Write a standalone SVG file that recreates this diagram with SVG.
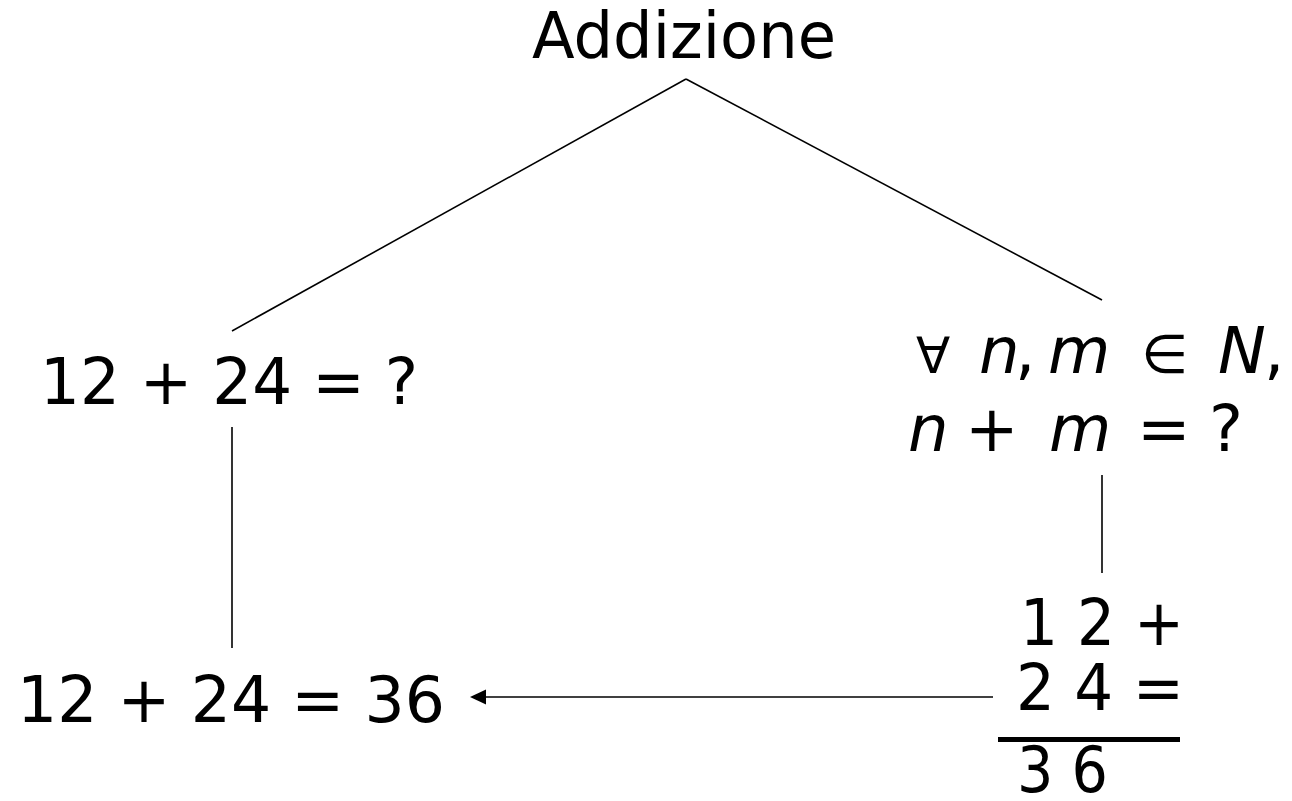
<svg xmlns="http://www.w3.org/2000/svg" width="1292" height="801" viewBox="0 0 1292 801">
<style>
text{font-family:"DejaVu Sans","Liberation Sans",sans-serif;font-size:64px;fill:#000}
.it{font-style:italic}
.ln{stroke:#000;stroke-width:1.6;fill:none}
</style>
<rect width="1292" height="801" fill="#fff"/>
<g id="connectors">
<line class="ln" x1="686" y1="79" x2="232" y2="331"/>
<line class="ln" x1="686" y1="79" x2="1102" y2="300"/>
<line class="ln" x1="232" y1="427" x2="232" y2="648"/>
<line class="ln" x1="1102" y1="475" x2="1102" y2="573"/>
<line class="ln" x1="993" y1="697" x2="484" y2="697"/>
<path d="M486,689.5 L470,697 L486,704.5 Z" fill="#000"/>
</g>
<g id="n-addizione"><text x="532" y="58" textLength="304" lengthAdjust="spacingAndGlyphs">Addizione</text></g>
<g id="n-concrete"><text x="40" y="404" textLength="378" lengthAdjust="spacingAndGlyphs">12 + 24 = ?</text></g>
<g id="n-general">
<text y="373"><tspan x="916" font-size="50">∀</tspan><tspan x="979" class="it">n</tspan><tspan x="1015">,</tspan><tspan x="1048" class="it">m</tspan><tspan x="1141" font-size="54">∈</tspan><tspan x="1218" class="it">N</tspan><tspan x="1264">,</tspan></text>
<text y="451"><tspan x="908" class="it">n</tspan><tspan x="965">+</tspan><tspan x="1049" class="it">m</tspan><tspan x="1137">=</tspan><tspan x="1209">?</tspan></text>
</g>
<g id="n-result"><text x="17" y="722" textLength="428" lengthAdjust="spacingAndGlyphs">12 + 24 = 36</text></g>
<g id="n-column">
<text x="1020" y="645" textLength="164" lengthAdjust="spacingAndGlyphs">1 2 +</text>
<text x="1016" y="710" textLength="168" lengthAdjust="spacingAndGlyphs">2 4 =</text>
<rect x="998" y="737" width="182" height="5" fill="#000"/>
<text x="1017" y="792" textLength="91" lengthAdjust="spacingAndGlyphs">3 6</text>
</g>
</svg>
